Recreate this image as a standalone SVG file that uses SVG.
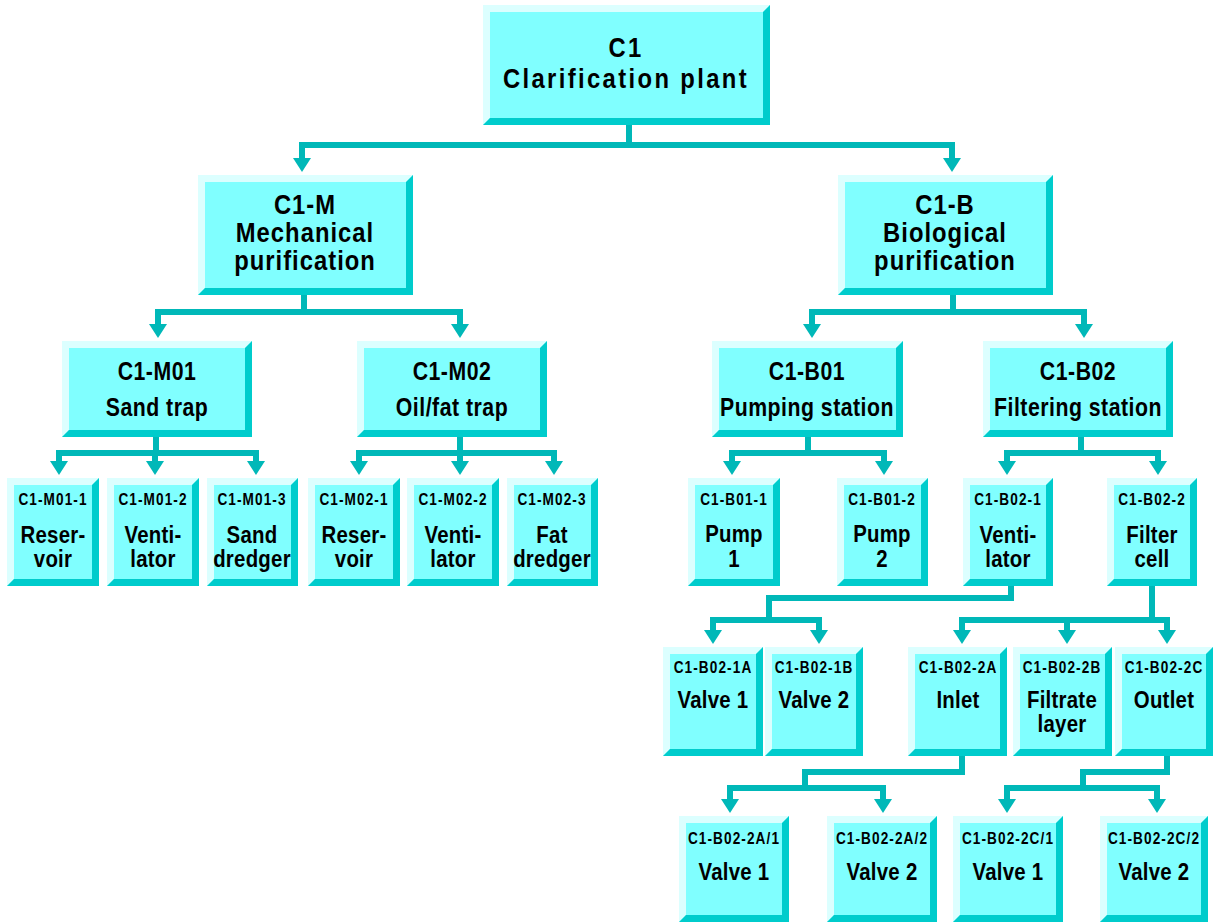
<svg xmlns="http://www.w3.org/2000/svg" width="1214" height="922" viewBox="0 0 1214 922">
  <style>
    .face { fill: #80ffff; }
    .hi { fill: #dcffff; }
    .lo { fill: #00cccc; }
    .wire { fill: none; stroke: #00b8b8; stroke-width: 6; stroke-linecap: square; }
    .drop { fill: none; stroke: #00b8b8; stroke-width: 6; marker-end: url(#head); }
    text { font-family: "Liberation Sans", Arial, sans-serif; font-weight: bold; fill: #000; text-anchor: middle; }
    .t1 { font-size: 28px; letter-spacing: 2.8px; }
    .t2 { font-size: 28px; letter-spacing: 1.2px; }
    .t3 { font-size: 25px; letter-spacing: 0.6px; }
    .code { font-size: 16px; letter-spacing: 1.3px; }
    .lbl { font-size: 24px; letter-spacing: 0.3px; }
  </style>
  <defs>
    <marker id="head" markerUnits="userSpaceOnUse" markerWidth="14" markerHeight="18" refX="0" refY="0" orient="auto" overflow="visible">
      <path d="M0,-9 L14,0 L0,9 Z" fill="#00b8b8"/>
    </marker>
  </defs>

  <!-- connectors -->
  <g id="connectors">
    <!-- C1 -> C1-M / C1-B -->
    <path class="wire" d="M629,125 V145 M302,145 H952"/>
    <path class="drop" d="M302,145 V158"/>
    <path class="drop" d="M952,145 V158"/>
    <!-- C1-M -> M01 / M02 -->
    <path class="wire" d="M304,295 V312 M158,312 H460"/>
    <path class="drop" d="M158,312 V324"/>
    <path class="drop" d="M460,312 V324"/>
    <!-- C1-B -> B01 / B02 -->
    <path class="wire" d="M953,295 V312 M812,312 H1084"/>
    <path class="drop" d="M812,312 V324"/>
    <path class="drop" d="M1084,312 V324"/>
    <!-- M01 children -->
    <path class="wire" d="M156,437 V453 M59,453 H256"/>
    <path class="drop" d="M59,453 V461"/>
    <path class="drop" d="M155,453 V461"/>
    <path class="drop" d="M256,453 V461"/>
    <!-- M02 children -->
    <path class="wire" d="M460,437 V453 M359,453 H554"/>
    <path class="drop" d="M359,453 V461"/>
    <path class="drop" d="M460,453 V461"/>
    <path class="drop" d="M554,453 V461"/>
    <!-- B01 children -->
    <path class="wire" d="M808,437 V453 M732,453 H884"/>
    <path class="drop" d="M732,453 V461"/>
    <path class="drop" d="M884,453 V461"/>
    <!-- B02 children -->
    <path class="wire" d="M1081,437 V453 M1007,453 H1158"/>
    <path class="drop" d="M1007,453 V461"/>
    <path class="drop" d="M1158,453 V461"/>
    <!-- B02-1 children -->
    <path class="wire" d="M1011,586 V598 H769 V620 M713,620 H819"/>
    <path class="drop" d="M713,620 V630"/>
    <path class="drop" d="M819,620 V630"/>
    <!-- B02-2 children -->
    <path class="wire" d="M1152,586 V620 M962,620 H1167"/>
    <path class="drop" d="M962,620 V630"/>
    <path class="drop" d="M1067,620 V630"/>
    <path class="drop" d="M1167,620 V630"/>
    <!-- B02-2A children -->
    <path class="wire" d="M962,756 V772 H805 V788 M730,788 H883"/>
    <path class="drop" d="M730,788 V799"/>
    <path class="drop" d="M883,788 V799"/>
    <!-- B02-2C children -->
    <path class="wire" d="M1167,756 V772 H1083 V788 M1007,788 H1157"/>
    <path class="drop" d="M1007,788 V799"/>
    <path class="drop" d="M1157,788 V799"/>
  </g>

  <!-- Labels are narrowed around each box centre with matrix(0.85,0,0,1,0.15*cx,0) -->

  <!-- level 1 -->
  <g id="c1">
    <rect class="face" x="483" y="5" width="287" height="120"/>
    <path class="hi" d="M483,5 H770 L763,12 H490 V118 L483,125 Z"/>
    <path class="lo" d="M770,5 V125 H483 L490,118 H763 V12 Z"/>
    <g transform="matrix(0.85,0,0,1,93.9,0)">
      <text class="t1" x="626" y="57">C1</text>
      <text class="t1" x="626" y="88">Clarification plant</text>
    </g>
  </g>

  <!-- level 2 -->
  <g id="c1-m">
    <rect class="face" x="198" y="175" width="215" height="120"/>
    <path class="hi" d="M198,175 H413 L406,182 H205 V288 L198,295 Z"/>
    <path class="lo" d="M413,175 V295 H198 L205,288 H406 V182 Z"/>
    <g transform="matrix(0.85,0,0,1,45.75,0)">
      <text class="t2" x="305" y="214">C1-M</text>
      <text class="t2" x="305" y="242">Mechanical</text>
      <text class="t2" x="305" y="270">purification</text>
    </g>
  </g>
  <g id="c1-b">
    <rect class="face" x="838" y="175" width="215" height="120"/>
    <path class="hi" d="M838,175 H1053 L1046,182 H845 V288 L838,295 Z"/>
    <path class="lo" d="M1053,175 V295 H838 L845,288 H1046 V182 Z"/>
    <g transform="matrix(0.85,0,0,1,141.75,0)">
      <text class="t2" x="945" y="214">C1-B</text>
      <text class="t2" x="945" y="242">Biological</text>
      <text class="t2" x="945" y="270">purification</text>
    </g>
  </g>

  <!-- level 3 -->
  <g id="c1-m01">
    <rect class="face" x="62" y="341" width="190" height="96"/>
    <path class="hi" d="M62,341 H252 L245,348 H69 V430 L62,437 Z"/>
    <path class="lo" d="M252,341 V437 H62 L69,430 H245 V348 Z"/>
    <g transform="matrix(0.85,0,0,1,23.55,0)">
      <text class="t3" x="157" y="380">C1-M01</text>
      <text class="t3" x="157" y="416">Sand trap</text>
    </g>
  </g>
  <g id="c1-m02">
    <rect class="face" x="357" y="341" width="190" height="96"/>
    <path class="hi" d="M357,341 H547 L540,348 H364 V430 L357,437 Z"/>
    <path class="lo" d="M547,341 V437 H357 L364,430 H540 V348 Z"/>
    <g transform="matrix(0.85,0,0,1,67.8,0)">
      <text class="t3" x="452" y="380">C1-M02</text>
      <text class="t3" x="452" y="416">Oil/fat trap</text>
    </g>
  </g>
  <g id="c1-b01">
    <rect class="face" x="712" y="341" width="191" height="96"/>
    <path class="hi" d="M712,341 H903 L896,348 H719 V430 L712,437 Z"/>
    <path class="lo" d="M903,341 V437 H712 L719,430 H896 V348 Z"/>
    <g transform="matrix(0.85,0,0,1,121.05,0)">
      <text class="t3" x="807" y="380">C1-B01</text>
      <text class="t3" x="807" y="416">Pumping station</text>
    </g>
  </g>
  <g id="c1-b02">
    <rect class="face" x="983" y="341" width="190" height="96"/>
    <path class="hi" d="M983,341 H1173 L1166,348 H990 V430 L983,437 Z"/>
    <path class="lo" d="M1173,341 V437 H983 L990,430 H1166 V348 Z"/>
    <g transform="matrix(0.85,0,0,1,161.7,0)">
      <text class="t3" x="1078" y="380">C1-B02</text>
      <text class="t3" x="1078" y="416">Filtering station</text>
    </g>
  </g>

  <!-- level 4 -->
  <g id="c1-m01-1">
    <rect class="face" x="7" y="478" width="92" height="108"/>
    <path class="hi" d="M7,478 H99 L92,485 H14 V579 L7,586 Z"/>
    <path class="lo" d="M99,478 V586 H7 L14,579 H92 V485 Z"/>
    <g transform="matrix(0.85,0,0,1,7.95,0)">
      <text class="code" x="53" y="505">C1-M01-1</text>
      <text class="lbl" x="53" y="543">Reser-</text>
      <text class="lbl" x="53" y="567">voir</text>
    </g>
  </g>
  <g id="c1-m01-2">
    <rect class="face" x="107" y="478" width="92" height="108"/>
    <path class="hi" d="M107,478 H199 L192,485 H114 V579 L107,586 Z"/>
    <path class="lo" d="M199,478 V586 H107 L114,579 H192 V485 Z"/>
    <g transform="matrix(0.85,0,0,1,22.95,0)">
      <text class="code" x="153" y="505">C1-M01-2</text>
      <text class="lbl" x="153" y="543">Venti-</text>
      <text class="lbl" x="153" y="567">lator</text>
    </g>
  </g>
  <g id="c1-m01-3">
    <rect class="face" x="207" y="478" width="91" height="108"/>
    <path class="hi" d="M207,478 H298 L291,485 H214 V579 L207,586 Z"/>
    <path class="lo" d="M298,478 V586 H207 L214,579 H291 V485 Z"/>
    <g transform="matrix(0.85,0,0,1,37.8,0)">
      <text class="code" x="252" y="505">C1-M01-3</text>
      <text class="lbl" x="252" y="543">Sand</text>
      <text class="lbl" x="252" y="567">dredger</text>
    </g>
  </g>
  <g id="c1-m02-1">
    <rect class="face" x="308" y="478" width="92" height="108"/>
    <path class="hi" d="M308,478 H400 L393,485 H315 V579 L308,586 Z"/>
    <path class="lo" d="M400,478 V586 H308 L315,579 H393 V485 Z"/>
    <g transform="matrix(0.85,0,0,1,53.1,0)">
      <text class="code" x="354" y="505">C1-M02-1</text>
      <text class="lbl" x="354" y="543">Reser-</text>
      <text class="lbl" x="354" y="567">voir</text>
    </g>
  </g>
  <g id="c1-m02-2">
    <rect class="face" x="407" y="478" width="92" height="108"/>
    <path class="hi" d="M407,478 H499 L492,485 H414 V579 L407,586 Z"/>
    <path class="lo" d="M499,478 V586 H407 L414,579 H492 V485 Z"/>
    <g transform="matrix(0.85,0,0,1,67.95,0)">
      <text class="code" x="453" y="505">C1-M02-2</text>
      <text class="lbl" x="453" y="543">Venti-</text>
      <text class="lbl" x="453" y="567">lator</text>
    </g>
  </g>
  <g id="c1-m02-3">
    <rect class="face" x="507" y="478" width="91" height="108"/>
    <path class="hi" d="M507,478 H598 L591,485 H514 V579 L507,586 Z"/>
    <path class="lo" d="M598,478 V586 H507 L514,579 H591 V485 Z"/>
    <g transform="matrix(0.85,0,0,1,82.8,0)">
      <text class="code" x="552" y="505">C1-M02-3</text>
      <text class="lbl" x="552" y="543">Fat</text>
      <text class="lbl" x="552" y="567">dredger</text>
    </g>
  </g>
  <g id="c1-b01-1">
    <rect class="face" x="688" y="478" width="92" height="108"/>
    <path class="hi" d="M688,478 H780 L773,485 H695 V579 L688,586 Z"/>
    <path class="lo" d="M780,478 V586 H688 L695,579 H773 V485 Z"/>
    <g transform="matrix(0.85,0,0,1,110.1,0)">
      <text class="code" x="734" y="505">C1-B01-1</text>
      <text class="lbl" x="734" y="542">Pump</text>
      <text class="lbl" x="734" y="567">1</text>
    </g>
  </g>
  <g id="c1-b01-2">
    <rect class="face" x="837" y="478" width="91" height="108"/>
    <path class="hi" d="M837,478 H928 L921,485 H844 V579 L837,586 Z"/>
    <path class="lo" d="M928,478 V586 H837 L844,579 H921 V485 Z"/>
    <g transform="matrix(0.85,0,0,1,132.3,0)">
      <text class="code" x="882" y="505">C1-B01-2</text>
      <text class="lbl" x="882" y="542">Pump</text>
      <text class="lbl" x="882" y="567">2</text>
    </g>
  </g>
  <g id="c1-b02-1">
    <rect class="face" x="963" y="478" width="90" height="108"/>
    <path class="hi" d="M963,478 H1053 L1046,485 H970 V579 L963,586 Z"/>
    <path class="lo" d="M1053,478 V586 H963 L970,579 H1046 V485 Z"/>
    <g transform="matrix(0.85,0,0,1,151.2,0)">
      <text class="code" x="1008" y="505">C1-B02-1</text>
      <text class="lbl" x="1008" y="543">Venti-</text>
      <text class="lbl" x="1008" y="567">lator</text>
    </g>
  </g>
  <g id="c1-b02-2">
    <rect class="face" x="1107" y="478" width="90" height="108"/>
    <path class="hi" d="M1107,478 H1197 L1190,485 H1114 V579 L1107,586 Z"/>
    <path class="lo" d="M1197,478 V586 H1107 L1114,579 H1190 V485 Z"/>
    <g transform="matrix(0.85,0,0,1,172.8,0)">
      <text class="code" x="1152" y="505">C1-B02-2</text>
      <text class="lbl" x="1152" y="543">Filter</text>
      <text class="lbl" x="1152" y="567">cell</text>
    </g>
  </g>

  <!-- level 5 -->
  <g id="c1-b02-1a">
    <rect class="face" x="663" y="647" width="100" height="109"/>
    <path class="hi" d="M663,647 H763 L756,654 H670 V749 L663,756 Z"/>
    <path class="lo" d="M763,647 V756 H663 L670,749 H756 V654 Z"/>
    <g transform="matrix(0.85,0,0,1,106.95,0)">
      <text class="code" x="713" y="673">C1-B02-1A</text>
      <text class="lbl" x="713" y="708">Valve 1</text>
    </g>
  </g>
  <g id="c1-b02-1b">
    <rect class="face" x="765" y="647" width="98" height="109"/>
    <path class="hi" d="M765,647 H863 L856,654 H772 V749 L765,756 Z"/>
    <path class="lo" d="M863,647 V756 H765 L772,749 H856 V654 Z"/>
    <g transform="matrix(0.85,0,0,1,122.1,0)">
      <text class="code" x="814" y="673">C1-B02-1B</text>
      <text class="lbl" x="814" y="708">Valve 2</text>
    </g>
  </g>
  <g id="c1-b02-2a">
    <rect class="face" x="908" y="647" width="99" height="109"/>
    <path class="hi" d="M908,647 H1007 L1000,654 H915 V749 L908,756 Z"/>
    <path class="lo" d="M1007,647 V756 H908 L915,749 H1000 V654 Z"/>
    <g transform="matrix(0.85,0,0,1,143.7,0)">
      <text class="code" x="958" y="673">C1-B02-2A</text>
      <text class="lbl" x="958" y="708">Inlet</text>
    </g>
  </g>
  <g id="c1-b02-2b">
    <rect class="face" x="1013" y="647" width="99" height="109"/>
    <path class="hi" d="M1013,647 H1112 L1105,654 H1020 V749 L1013,756 Z"/>
    <path class="lo" d="M1112,647 V756 H1013 L1020,749 H1105 V654 Z"/>
    <g transform="matrix(0.85,0,0,1,159.3,0)">
      <text class="code" x="1062" y="673">C1-B02-2B</text>
      <text class="lbl" x="1062" y="708">Filtrate</text>
      <text class="lbl" x="1062" y="732">layer</text>
    </g>
  </g>
  <g id="c1-b02-2c">
    <rect class="face" x="1115" y="647" width="98" height="109"/>
    <path class="hi" d="M1115,647 H1213 L1206,654 H1122 V749 L1115,756 Z"/>
    <path class="lo" d="M1213,647 V756 H1115 L1122,749 H1206 V654 Z"/>
    <g transform="matrix(0.85,0,0,1,174.6,0)">
      <text class="code" x="1164" y="673">C1-B02-2C</text>
      <text class="lbl" x="1164" y="708">Outlet</text>
    </g>
  </g>

  <!-- level 6 -->
  <g id="c1-b02-2a-1">
    <rect class="face" x="679" y="816" width="110" height="106"/>
    <path class="hi" d="M679,816 H789 L782,823 H686 V915 L679,922 Z"/>
    <path class="lo" d="M789,816 V922 H679 L686,915 H782 V823 Z"/>
    <g transform="matrix(0.85,0,0,1,110.1,0)">
      <text class="code" x="734" y="844">C1-B02-2A/1</text>
      <text class="lbl" x="734" y="880">Valve 1</text>
    </g>
  </g>
  <g id="c1-b02-2a-2">
    <rect class="face" x="827" y="816" width="110" height="106"/>
    <path class="hi" d="M827,816 H937 L930,823 H834 V915 L827,922 Z"/>
    <path class="lo" d="M937,816 V922 H827 L834,915 H930 V823 Z"/>
    <g transform="matrix(0.85,0,0,1,132.3,0)">
      <text class="code" x="882" y="844">C1-B02-2A/2</text>
      <text class="lbl" x="882" y="880">Valve 2</text>
    </g>
  </g>
  <g id="c1-b02-2c-1">
    <rect class="face" x="953" y="816" width="110" height="106"/>
    <path class="hi" d="M953,816 H1063 L1056,823 H960 V915 L953,922 Z"/>
    <path class="lo" d="M1063,816 V922 H953 L960,915 H1056 V823 Z"/>
    <g transform="matrix(0.85,0,0,1,151.2,0)">
      <text class="code" x="1008" y="844">C1-B02-2C/1</text>
      <text class="lbl" x="1008" y="880">Valve 1</text>
    </g>
  </g>
  <g id="c1-b02-2c-2">
    <rect class="face" x="1100" y="816" width="108" height="106"/>
    <path class="hi" d="M1100,816 H1208 L1201,823 H1107 V915 L1100,922 Z"/>
    <path class="lo" d="M1208,816 V922 H1100 L1107,915 H1201 V823 Z"/>
    <g transform="matrix(0.85,0,0,1,173.1,0)">
      <text class="code" x="1154" y="844">C1-B02-2C/2</text>
      <text class="lbl" x="1154" y="880">Valve 2</text>
    </g>
  </g>
</svg>
